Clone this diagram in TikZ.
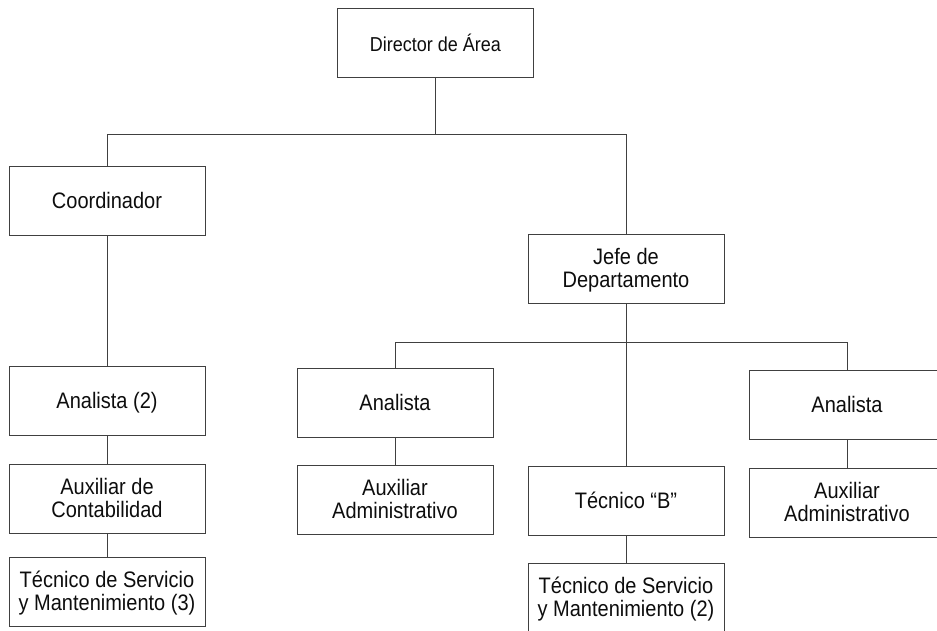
\documentclass[tikz,border=0pt]{standalone}
\usepackage{fontspec}
\setmainfont{Liberation Sans}
\usepackage{tikz}

% text in the boxes is a little taller than wide, and sits a bit low
\newcommand{\cargo}[1]{\raisebox{-3pt}[\height][\depth]{\scalebox{1}[1.12]{\begin{tabular}{@{}c@{}}#1\end{tabular}}}}

\begin{document}
\begin{tikzpicture}[x=1pt,y=1pt,
    puesto/.style={draw=black!75, line width=0.9pt, rectangle,
      minimum width=196pt, minimum height=69pt, inner sep=0pt,
      align=center, text=black!95, font=\fontsize{20}{20.5}\selectfont},
    enlace/.style={draw=black!75, line width=0.9pt}]
    \useasboundingbox (0,0) rectangle (937,631);
    \clip (0,0) rectangle (937,631); % Clips the boxes at the page edge

    \coordinate (BusTop) at (0,497);   % bus under the director
    \coordinate (BusJefe) at (0,289);  % bus under the jefe

    \node[puesto, font=\fontsize{18}{18.5}\selectfont] (Director) at (435.5,588.5) {\cargo{Director de Área}};
    \node[puesto] (Coord)  at (107,430.5) {\cargo{Coordinador}};
    \node[puesto] (Jefe)   at (626,362.5) {\cargo{Jefe de\\Departamento}};

    % left branch
    \node[puesto] (AnalistaDos) at (107,230.5) {\cargo{Analista (2)}};
    \node[puesto] (AuxCont)     at (107,132.5) {\cargo{Auxiliar de\\Contabilidad}};
    \node[puesto] (TecTres)     at (107,39.5)  {\cargo{Técnico de Servicio\\y Mantenimiento (3)}};

    % right branch
    \node[puesto] (AnalistaA) at (395,228.5) {\cargo{Analista}};
    \node[puesto] (AuxAdmA)   at (395,131.5) {\cargo{Auxiliar\\Administrativo}};
    \node[puesto] (TecB)      at (626,130.5) {\cargo{Técnico “B”}};
    \node[puesto] (TecDos)    at (626,33.5)  {\cargo{Técnico de Servicio\\y Mantenimiento (2)}};
    \node[puesto] (AnalistaB) at (847,226)   {\cargo{Analista}};
    \node[puesto] (AuxAdmB)   at (847,128.5) {\cargo{Auxiliar\\Administrativo}};

    \draw[enlace] (Director.south) -- (Director.south |- BusTop);
    \draw[enlace] (Coord.north) -- (Coord.north |- BusTop)
        -- (Jefe.north |- BusTop) -- (Jefe.north);
    \draw[enlace] (Coord.south) -- (AnalistaDos.north);
    \draw[enlace] (AnalistaDos.south) -- (AuxCont.north);
    \draw[enlace] (AuxCont.south) -- (TecTres.north);

    \draw[enlace] (AnalistaA.north) -- (AnalistaA.north |- BusJefe)
        -- (AnalistaB.north |- BusJefe) -- (AnalistaB.north);
    \draw[enlace] (Jefe.south) -- (TecB.north);
    \draw[enlace] (AnalistaA.south) -- (AuxAdmA.north);
    \draw[enlace] (AnalistaB.south) -- (AuxAdmB.north);
    \draw[enlace] (TecB.south) -- (TecDos.north);
\end{tikzpicture}
\end{document}
